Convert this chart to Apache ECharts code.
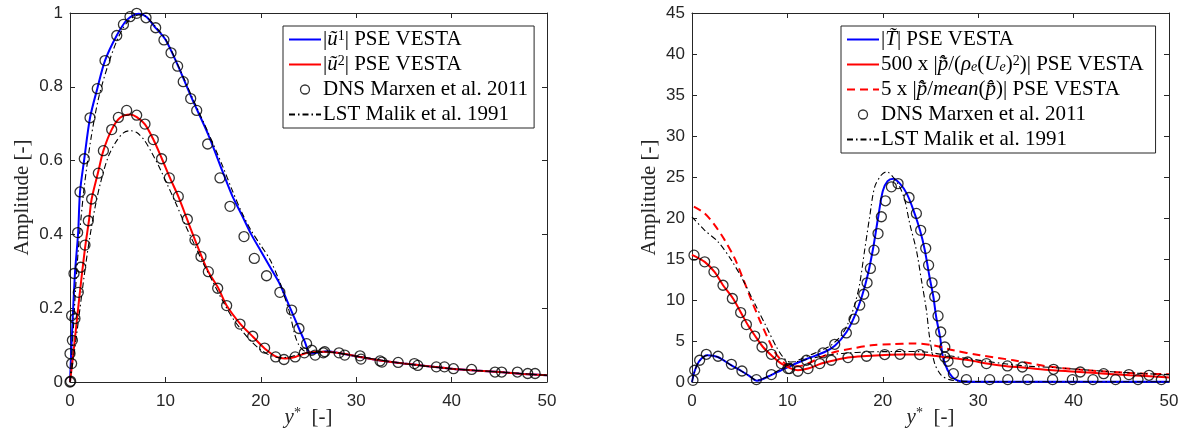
<!DOCTYPE html>
<html>
<head>
<meta charset="utf-8">
<script src="https://cdn.jsdelivr.net/npm/echarts@6/dist/echarts.min.js"></script>
<style>
html, body { margin: 0; padding: 0; background: #fff; }
#chart { width: 1184px; height: 439px; }
</style>
</head>
<body>
<div id="chart"></div>
<script>
// ---------- Left panel: velocity amplitudes ----------
const u1X = [0, 0.18, 0.52, 0.85, 1.05, 1.5, 2.1, 2.86, 3.67, 4.9, 6.0, 7.2, 8.0, 8.9, 10.0, 11.3, 12.75, 14.5, 16.0, 17.0, 18.0, 19.0, 20.0, 21.0, 22.0, 23.0, 24.0, 24.6, 25.2, 26.0, 27.0, 28.0, 30.0, 32.5, 35.0, 37.5, 40.0, 42.5, 45.0, 47.5, 50.0];
const u1Y = [0, 0.113, 0.294, 0.403, 0.515, 0.605, 0.716, 0.795, 0.871, 0.939, 0.982, 0.998, 0.99, 0.962, 0.928, 0.858, 0.77, 0.67, 0.57, 0.505, 0.453, 0.40, 0.355, 0.31, 0.265, 0.205, 0.145, 0.11, 0.077, 0.08, 0.083, 0.079, 0.07, 0.058, 0.05, 0.043, 0.036, 0.031, 0.027, 0.022, 0.018];

const u2X = [0, 0.35, 1.0, 1.57, 2.0, 2.27, 2.97, 3.5, 4.37, 5.24, 6.3, 7.0, 7.86, 8.74, 9.6, 10.48, 11.35, 12.23, 13.1, 13.8, 14.5, 15.55, 16.4, 17.8, 19.2, 20.4, 21.66, 22.5, 23.6, 25.0, 26.5, 28.0, 30.0, 32.5, 35.0, 37.5, 40.0, 42.5, 45.0, 47.5, 50.0];
const u2Y = [0, 0.077, 0.235, 0.362, 0.44, 0.496, 0.571, 0.627, 0.684, 0.716, 0.725, 0.718, 0.698, 0.657, 0.607, 0.553, 0.503, 0.444, 0.385, 0.34, 0.299, 0.254, 0.208, 0.159, 0.122, 0.091, 0.068, 0.064, 0.068, 0.08, 0.082, 0.079, 0.07, 0.058, 0.05, 0.043, 0.036, 0.031, 0.027, 0.022, 0.018];

const lstU1X = [0, 0.3, 0.6, 1.0, 1.5, 2.2, 3.0, 4.0, 5.0, 6.0, 7.2, 8.0, 9.0, 10.0, 11.3, 12.75, 14.5, 16.0, 17.0, 18.0, 19.0, 20.0, 21.0, 22.0, 22.5, 23.0, 23.6, 24.0, 24.5, 25.0, 26.0, 27.0, 28.0, 30.0, 35.0, 40.0, 45.0, 50.0];
const lstU1Y = [0, 0.12, 0.26, 0.4, 0.53, 0.66, 0.77, 0.86, 0.93, 0.975, 0.995, 0.99, 0.962, 0.93, 0.86, 0.775, 0.675, 0.585, 0.52, 0.46, 0.41, 0.37, 0.33, 0.27, 0.23, 0.19, 0.125, 0.1, 0.085, 0.08, 0.08, 0.082, 0.079, 0.07, 0.05, 0.036, 0.027, 0.018];

const lstU2X = [0, 0.5, 1.0, 1.5, 2.0, 2.6, 3.2, 4.0, 4.8, 5.6, 6.3, 7.0, 7.8, 8.6, 9.4, 10.2, 11.0, 12.0, 13.0, 14.0, 15.0, 16.0, 17.0, 18.0, 19.0, 20.0, 21.0, 22.0, 23.0, 24.0, 25.0, 26.5, 28.0, 30.0, 35.0, 40.0, 45.0, 50.0];
const lstU2Y = [0, 0.09, 0.19, 0.29, 0.38, 0.47, 0.54, 0.61, 0.65, 0.675, 0.681, 0.676, 0.655, 0.62, 0.58, 0.535, 0.49, 0.43, 0.375, 0.32, 0.27, 0.22, 0.175, 0.14, 0.11, 0.087, 0.072, 0.066, 0.068, 0.075, 0.08, 0.082, 0.079, 0.07, 0.05, 0.036, 0.027, 0.018];

const dnsU = [[0, 0], [0.07, 0.002], [0, 0.077], [0.17, 0.05], [0.25, 0.113], [0.17, 0.18], [0.52, 0.172], [0.42, 0.294], [0.87, 0.243], [1.12, 0.311], [0.8, 0.405], [1.57, 0.371], [1.05, 0.515], [1.92, 0.437], [1.5, 0.605], [2.27, 0.496], [2.1, 0.716], [2.97, 0.566], [2.86, 0.795], [3.5, 0.627], [3.67, 0.871], [4.37, 0.684], [4.9, 0.939], [5.07, 0.717], [5.6, 0.969], [5.94, 0.736], [6.29, 0.99], [6.99, 0.999], [6.99, 0.723], [7.86, 0.699], [7.97, 0.987], [8.73, 0.657], [8.98, 0.96], [9.6, 0.605], [9.85, 0.927], [10.41, 0.553], [10.59, 0.892], [11.35, 0.503], [11.28, 0.856], [11.87, 0.814], [12.3, 0.441], [12.65, 0.768], [13.1, 0.385], [13.28, 0.736], [13.73, 0.34], [14.5, 0.299], [14.43, 0.645], [15.48, 0.254], [15.72, 0.553], [16.42, 0.207], [16.77, 0.476], [17.82, 0.157], [18.24, 0.394], [19.15, 0.124], [19.32, 0.335], [20.4, 0.092], [20.6, 0.288], [21.56, 0.068], [22.0, 0.243], [22.43, 0.061], [23.23, 0.195], [23.6, 0.068], [24.0, 0.145], [24.56, 0.079], [24.8, 0.104], [25.34, 0.086], [25.7, 0.073], [26.55, 0.079], [26.7, 0.082], [28.2, 0.079], [28.8, 0.073], [30.4, 0.071], [30.5, 0.062], [32.5, 0.057], [32.7, 0.054], [34.4, 0.053], [36.1, 0.05], [36.45, 0.045], [38.4, 0.041], [39.25, 0.041], [40.2, 0.036], [42.1, 0.034], [44.55, 0.027], [45.25, 0.027], [46.9, 0.027], [47.98, 0.023], [48.75, 0.023]];

// ---------- Right panel: temperature and pressure amplitudes ----------
const tX = [0, 0.3, 0.8, 1.6, 2.7, 4.1, 5.3, 6.0, 6.8, 7.5, 8.3, 10.0, 12.0, 13.9, 15.0, 16.2, 17.0, 17.8, 18.45, 19.0, 19.5, 20.0, 20.5, 21.1, 21.8, 22.5, 23.2, 23.9, 24.4, 24.9, 25.3, 25.6, 26.0, 26.3, 26.8, 27.3, 27.8, 28.5, 30.0, 35.0, 40.0, 45.0, 50.0];
const tY = [0, 1.4, 2.6, 3.25, 3.05, 2.05, 1.25, 0.75, 0.15, 0.4, 0.85, 1.8, 2.8, 3.66, 4.45, 6.1, 7.9, 10.4, 13.2, 16.4, 20.0, 23.3, 24.5, 24.8, 24.2, 23.0, 21.0, 18.5, 16.1, 12.8, 10.4, 7.9, 5.5, 3.05, 1.43, 0.6, 0.2, 0.05, 0.03, 0.03, 0.03, 0.03, 0.03];

const pX = [0, 1.33, 2.38, 3.25, 4.3, 5.18, 5.87, 6.57, 7.44, 8.32, 9.37, 10.4, 11.1, 12.16, 13.56, 14.6, 16.35, 18.3, 20.2, 22.0, 24.0, 26.3, 29.1, 30.9, 33.0, 34.7, 37.8, 40.6, 43.3, 45.9, 48.0, 50.0];
const pY = [15.5, 14.65, 13.4, 11.8, 10.18, 8.35, 6.92, 5.7, 4.27, 3.26, 2.25, 1.64, 1.43, 1.64, 2.25, 2.56, 2.98, 3.17, 3.3, 3.36, 3.36, 3.05, 2.65, 2.25, 1.92, 1.76, 1.43, 1.22, 1.02, 0.82, 0.7, 0.54];

const pMeanX = [0.2, 1.33, 2.38, 3.43, 4.48, 5.35, 6.23, 7.1, 7.97, 8.67, 9.37, 10.06, 11.1, 12.16, 13.56, 14.96, 16.7, 18.8, 20.9, 23.2, 25.3, 27.4, 30.2, 33.7, 37.2, 40.6, 44.1, 47.6, 50.0];
const pMeanY = [21.4, 20.56, 19.13, 17.3, 15.07, 12.6, 9.98, 7.53, 5.3, 3.66, 2.65, 2.04, 1.92, 2.25, 3.05, 3.66, 4.07, 4.48, 4.6, 4.7, 4.48, 3.87, 3.26, 2.65, 1.92, 1.51, 1.22, 1.02, 0.94];

const lstTX = [0, 0.3, 0.8, 1.6, 2.7, 4.1, 5.3, 6.0, 6.8, 7.5, 8.3, 9.5, 10.5, 11.5, 12.5, 13.2, 14.0, 14.6, 15.66, 16.35, 17.05, 17.58, 18.1, 18.63, 19.15, 19.85, 20.4, 21.07, 21.77, 22.3, 22.82, 23.52, 24.05, 24.57, 24.9, 25.44, 26.14, 27.0, 28.0, 30.0, 35.0, 40.0, 45.0, 50.0];
const lstTY = [0, 1.4, 2.6, 3.25, 3.05, 2.05, 1.25, 0.75, 0.2, 0.45, 0.9, 1.7, 2.3, 2.85, 3.35, 3.66, 4.1, 4.5, 5.7, 7.13, 9.4, 12.0, 16.1, 20.2, 23.8, 25.24, 25.64, 25.0, 23.8, 22.2, 19.34, 16.08, 12.42, 8.76, 5.5, 2.25, 0.82, 0.29, 0.12, 0.05, 0.03, 0.03, 0.03, 0.03];

const lstPX = [0, 1.33, 2.73, 4.13, 5.35, 6.57, 7.8, 8.85, 9.54, 10.24, 11.0, 12.0, 13.0, 14.0, 15.0, 16.5, 18.0, 20.0, 22.0, 24.0, 25.5, 27.0, 29.0, 31.0, 33.0, 35.0, 38.0, 41.0, 44.0, 47.0, 50.0];
const lstPY = [20.15, 18.5, 17.1, 14.86, 12.4, 9.57, 6.72, 4.27, 3.05, 2.44, 2.5, 2.75, 3.0, 3.25, 3.4, 3.55, 3.65, 3.7, 3.72, 3.7, 3.5, 3.2, 2.85, 2.5, 2.2, 1.95, 1.75, 1.5, 1.25, 1.05, 0.9];

const dnsT = [[0.1, 0.2], [0.28, 1.43], [0.8, 2.65], [1.5, 3.38], [2.73, 3.14], [4.13, 2.16], [5.24, 1.34], [6.75, 0.29], [8.32, 0.9], [10.06, 1.64], [12.0, 2.65], [13.73, 3.54], [14.96, 4.6], [16.18, 5.98], [16.98, 7.66], [17.58, 9.37], [18.0, 10.7], [18.35, 12.1], [18.7, 13.85], [19.08, 16.08], [19.5, 18.1], [19.85, 20.15], [20.27, 22.1], [20.9, 23.8], [21.6, 24.2], [22.75, 22.5], [23.52, 20.56], [23.97, 18.5], [24.5, 16.3], [24.8, 14.25], [25.16, 12.1], [25.44, 10.4], [25.79, 8.06], [26.07, 6.1], [26.5, 4.27], [26.84, 2.53], [27.4, 1.02], [28.76, 0.29], [31.2, 0.29], [33.1, 0.29], [35.2, 0.29], [37.8, 0.29], [39.87, 0.29], [42.03, 0.29], [44.4, 0.29], [46.75, 0.29], [49.2, 0.29]];
const dnsP = [[0.21, 15.47], [1.33, 14.65], [2.3, 13.43], [3.25, 11.8], [4.23, 10.18], [5.1, 8.47], [5.7, 7.0], [6.57, 5.6], [7.34, 4.27], [8.32, 3.38], [9.37, 2.25], [10.24, 1.64], [11.1, 1.31], [12.16, 1.64], [13.39, 2.25], [14.6, 2.65], [16.35, 2.98], [18.3, 3.14], [20.2, 3.35], [21.8, 3.38], [23.87, 3.35], [26.5, 3.05], [28.9, 2.44], [30.86, 2.25], [33.06, 1.96], [34.63, 1.83], [37.9, 1.55], [40.7, 1.22], [43.15, 1.02], [45.8, 0.9], [47.9, 0.82]];

// ---------- Axis ticks ----------
const xTickStep = 10;
const leftYMax = 1, leftYStep = 0.2;
const rightYMax = 45, rightYStep = 5;

// ---------- Legend entries ----------
const NAME_U1 = '|ũ¹| PSE VESTA';
const NAME_U2 = '|ũ²| PSE VESTA';
const NAME_T = '|T̃| PSE VESTA';
const NAME_P = '500 x |p/(ρe(Ue)²)| PSE VESTA';
const NAME_PM = '5 x |p/mean(p)| PSE VESTA';
const NAME_DNS = 'DNS Marxen et al. 2011';
const NAME_LST = 'LST Malik et al. 1991';

const richLabels = {};
richLabels[NAME_U1] = '{n||}{i|u\u0303}{p|1}{n|| PSE VESTA}';
richLabels[NAME_U2] = '{n||}{i|u\u0303}{p|2}{n|| PSE VESTA}';
richLabels[NAME_T] = '{n||}{i|T\u0303}{n|| PSE VESTA}';
richLabels[NAME_P] = '{n|500 x |}{i|p\u0303\u0302}{n|/(}{i|ρ}{s|e}{n|(}{i|U}{s|e}{n|)}{p|2}{n|)| PSE VESTA}';
richLabels[NAME_PM] = '{n|5 x |}{i|p\u0303\u0302}{n|/}{i|mean}{n|(}{i|p\u0304\u0302}{n|)| PSE VESTA}';
richLabels[NAME_DNS] = '{n|DNS Marxen et al. 2011}';
richLabels[NAME_LST] = '{n|LST Malik et al. 1991}';

const zip = (xs, ys) => xs.map((x, i) => [x, ys[i]]);

const SERIF = "'Liberation Serif', 'Times New Roman', serif";
const SANS = "'Liberation Sans', Arial, Helvetica, sans-serif";
const AXIS_COLOR = '#262626';
const DASH_DOT = [6, 3, 1.5, 3];
const LEGEND_FONT = 21;

const richStyles = {
  n: { fontFamily: SERIF, fontSize: LEGEND_FONT, color: '#000', lineHeight: 20 },
  i: { fontFamily: SERIF, fontSize: LEGEND_FONT, fontStyle: 'italic', color: '#000', lineHeight: 20 },
  s: { fontFamily: SERIF, fontSize: 14, fontStyle: 'italic', color: '#000', verticalAlign: 'bottom', lineHeight: 20 },
  p: { fontFamily: SERIF, fontSize: 14, color: '#000', verticalAlign: 'top', lineHeight: 16 }
};

function xAxes(gridIndex) {
  const common = {
    gridIndex, type: 'value', min: 0, max: 50, interval: xTickStep,
    axisLine: { show: true, onZero: false, lineStyle: { color: AXIS_COLOR, width: 1 } },
    axisTick: { show: true, inside: true, length: 5, lineStyle: { color: AXIS_COLOR, width: 1 } },
    splitLine: { show: false }, minorTick: { show: false }
  };
  return [
    Object.assign({}, common, {
      position: 'bottom',
      axisLabel: { show: true, margin: 11, color: AXIS_COLOR, fontFamily: SANS, fontSize: 17 },
      name: '{i|y}{p|*}{n|  [-]}', nameLocation: 'middle', nameGap: 24, nameMoveOverlap: false,
      nameTextStyle: {
        color: AXIS_COLOR, lineHeight: 22,
        rich: {
          n: { fontFamily: SERIF, fontSize: 21, color: AXIS_COLOR, lineHeight: 22 },
          i: { fontFamily: SERIF, fontSize: 21, fontStyle: 'italic', color: AXIS_COLOR, lineHeight: 22 },
          p: { fontFamily: SERIF, fontSize: 14, color: AXIS_COLOR, verticalAlign: 'top', lineHeight: 16 }
        }
      }
    }),
    Object.assign({}, common, { position: 'top', axisLabel: { show: false } })
  ];
}

function yAxes(gridIndex, max, step, nameGap) {
  const common = {
    gridIndex, type: 'value', min: 0, max: max, interval: step,
    axisLine: { show: true, onZero: false, lineStyle: { color: AXIS_COLOR, width: 1 } },
    axisTick: { show: true, inside: true, length: 5, lineStyle: { color: AXIS_COLOR, width: 1 } },
    splitLine: { show: false }, minorTick: { show: false }
  };
  return [
    Object.assign({}, common, {
      position: 'left',
      axisLabel: { show: true, margin: 7, color: AXIS_COLOR, fontFamily: SANS, fontSize: 17 },
      name: 'Amplitude [-]', nameLocation: 'middle', nameGap: nameGap, nameRotate: 90, nameMoveOverlap: false,
      nameTextStyle: { color: AXIS_COLOR, fontFamily: SERIF, fontSize: 21, lineHeight: 22 }
    }),
    Object.assign({}, common, { position: 'right', axisLabel: { show: false } })
  ];
}

function lineSeries(name, data, xi, yi, color, width, type) {
  return {
    name, type: 'line', data, xAxisIndex: xi, yAxisIndex: yi,
    showSymbol: false, symbol: 'none', smooth: 0.3,
    lineStyle: { color, width, type: type || 'solid' },
    itemStyle: { color },
    emphasis: { disabled: true }, z: 2
  };
}

function dnsSeries(data, xi, yi) {
  return {
    name: NAME_DNS, type: 'scatter', data, xAxisIndex: xi, yAxisIndex: yi,
    symbol: 'circle', symbolSize: 10, clip: false,
    itemStyle: { color: 'rgba(0,0,0,0)', borderColor: '#000', borderWidth: 1.3 },
    emphasis: { disabled: true }, z: 3
  };
}

// line entries show only their stroke; the DNS entry shows its open circle
function legendItem(name) {
  if (name === NAME_DNS) {
    return { name, itemStyle: { color: 'rgba(0,0,0,0)', borderColor: '#000', borderWidth: 1.3 } };
  }
  return { name, itemStyle: { opacity: 0, borderWidth: 0 } };
}

function legend(left, top, names, padRight) {
  return {
    orient: 'vertical', left, top,
    data: names.map(legendItem),
    itemWidth: 32, itemHeight: 9, itemGap: 4,
    padding: [3, padRight, 3, 5],
    backgroundColor: '#fff', borderColor: AXIS_COLOR, borderWidth: 1, borderRadius: 0,
    selectedMode: false,
    textStyle: { fontFamily: SERIF, fontSize: LEGEND_FONT, color: '#000', lineHeight: 20, rich: richStyles, padding: [0, 0, 0, -3] },
    formatter: name => richLabels[name] || name
  };
}

const option = {
  animation: false,
  backgroundColor: '#fff',
  grid: [
    { left: 70, right: 637, top: 13, bottom: 57, containLabel: false, outerBoundsMode: 'none' },
    { left: 692, right: 15, top: 13, bottom: 57, containLabel: false, outerBoundsMode: 'none' }
  ],
  xAxis: [...xAxes(0), ...xAxes(1)],
  yAxis: [...yAxes(0, leftYMax, leftYStep, 37), ...yAxes(1, rightYMax, rightYStep, 32)],
  legend: [
    legend(283, 26, [NAME_U1, NAME_U2, NAME_DNS, NAME_LST], 6),
    legend(841, 26, [NAME_T, NAME_P, NAME_PM, NAME_DNS, NAME_LST], 12)
  ],
  series: [
    lineSeries(NAME_U1, zip(u1X, u1Y), 0, 0, '#0000ff', 2),
    lineSeries(NAME_U2, zip(u2X, u2Y), 0, 0, '#ff0000', 2),
    dnsSeries(dnsU, 0, 0),
    lineSeries(NAME_LST, zip(lstU1X, lstU1Y), 0, 0, '#000', 1.1, DASH_DOT),
    lineSeries(NAME_LST, zip(lstU2X, lstU2Y), 0, 0, '#000', 1.1, DASH_DOT),

    lineSeries(NAME_T, zip(tX, tY), 2, 2, '#0000ff', 2),
    lineSeries(NAME_P, zip(pX, pY), 2, 2, '#ff0000', 2),
    lineSeries(NAME_PM, zip(pMeanX, pMeanY), 2, 2, '#ff0000', 2, [8, 5]),
    dnsSeries(dnsT.concat(dnsP), 2, 2),
    lineSeries(NAME_LST, zip(lstTX, lstTY), 2, 2, '#000', 1.1, DASH_DOT),
    lineSeries(NAME_LST, zip(lstPX, lstPY), 2, 2, '#000', 1.1, DASH_DOT)
  ]
};

const chart = echarts.init(document.getElementById('chart'), null, { renderer: 'canvas' });
chart.setOption(option);
</script>
</body>
</html>
